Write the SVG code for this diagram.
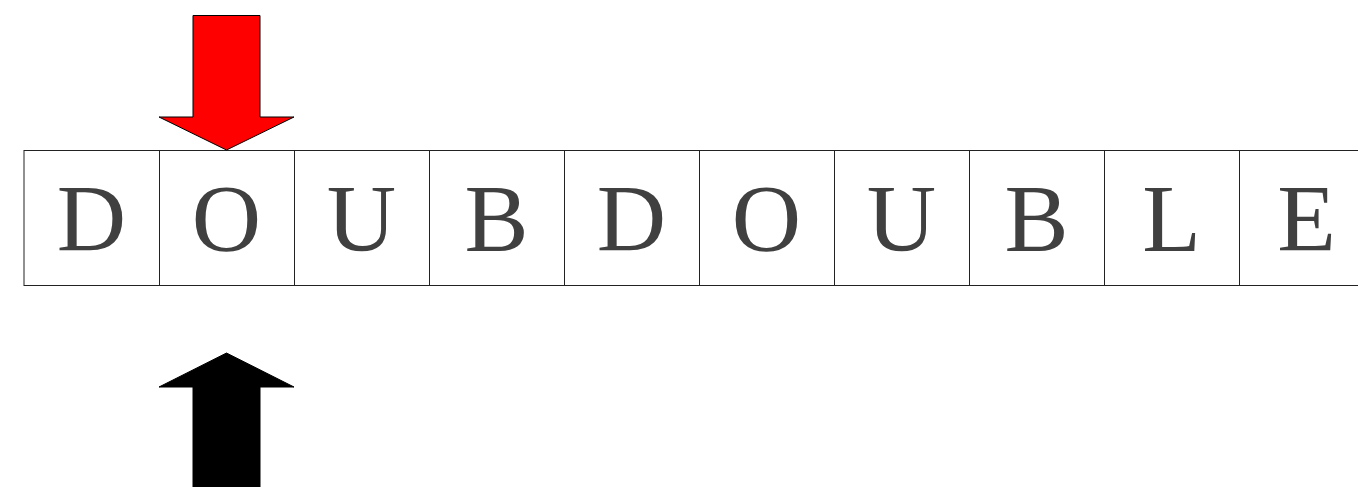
<svg xmlns="http://www.w3.org/2000/svg" width="1358" height="487" viewBox="0 0 1358 487">
<style>
.cell{fill:#fff;stroke:#222;stroke-width:1}
.t{font-family:"Liberation Serif","Times New Roman",serif;font-size:96px;fill:#404040;text-anchor:middle}
</style>
<rect width="1358" height="487" fill="#fff"/>
<g id="tape">
<g id="c0"><rect class="cell" x="24" y="150.5" width="135.5" height="135"/><text class="t" x="91.5" y="251">D</text></g>
<g id="c1"><rect class="cell" x="159.5" y="150.5" width="135" height="135"/><text class="t" x="226.5" y="251">O</text></g>
<g id="c2"><rect class="cell" x="294.5" y="150.5" width="135" height="135"/><text class="t" x="361.5" y="251">U</text></g>
<g id="c3"><rect class="cell" x="429.5" y="150.5" width="135" height="135"/><text class="t" x="496.5" y="251">B</text></g>
<g id="c4"><rect class="cell" x="564.5" y="150.5" width="135" height="135"/><text class="t" x="631.5" y="251">D</text></g>
<g id="c5"><rect class="cell" x="699.5" y="150.5" width="135" height="135"/><text class="t" x="766.5" y="251">O</text></g>
<g id="c6"><rect class="cell" x="834.5" y="150.5" width="135" height="135"/><text class="t" x="901.5" y="251">U</text></g>
<g id="c7"><rect class="cell" x="969.5" y="150.5" width="135" height="135"/><text class="t" x="1036.5" y="251">B</text></g>
<g id="c8"><rect class="cell" x="1104.5" y="150.5" width="135" height="135"/><text class="t" x="1171.5" y="251">L</text></g>
<g id="c9"><rect class="cell" x="1239.5" y="150.5" width="135" height="135"/><text class="t" x="1306.5" y="251">E</text></g>
</g>
<g id="connectors">
<polygon id="red-arrow" points="193,15.5 260,15.5 260,117 294,117 226.5,150 159,117 193,117" fill="#ff0000" stroke="#000" stroke-width="1"/>
<polygon id="black-arrow" points="193,500 260,500 260,387 294,387 226.5,353 159,387 193,387" fill="#000" stroke="#000" stroke-width="1"/>
</g>
</svg>
